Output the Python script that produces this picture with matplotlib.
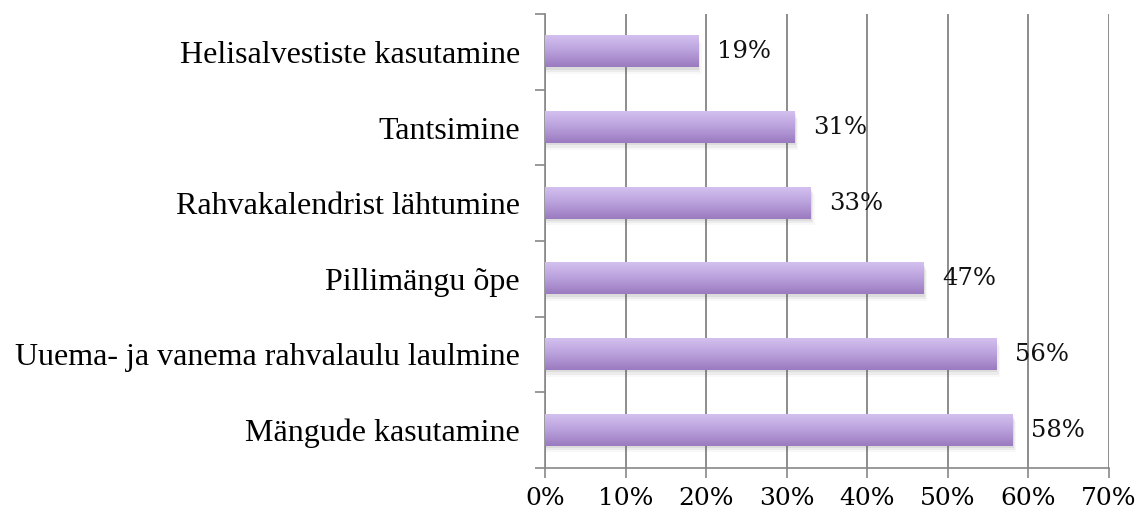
import numpy as np
import matplotlib.pyplot as plt
from matplotlib.colors import LinearSegmentedColormap

# ---- data ----
categories = [
    "Mängude kasutamine",
    "Uuema- ja vanema rahvalaulu laulmine",
    "Pillimängu õpe",
    "Rahvakalendrist lähtumine",
    "Tantsimine",
    "Helisalvestiste kasutamine",
]
values = [58, 56, 47, 33, 31, 19]
xticks = [0, 10, 20, 30, 40, 50, 60, 70]

fig = plt.figure(figsize=(11.37, 5.15), dpi=100)
ax = fig.add_axes([0.4793, 0.0913, 0.4961, 0.8815])

y = np.arange(len(categories))
bar_h = 0.41
grad = LinearSegmentedColormap.from_list("bar", ["#9a7bbf", "#b9a0dc", "#d3c0ef"])

bars = ax.barh(y, values, height=bar_h, color="none", zorder=3)
for b in bars:
    x0, y0 = b.get_x(), b.get_y()
    w, h = b.get_width(), b.get_height()
    # soft shadow under each bar
    for k, a in enumerate([0.10, 0.07, 0.04]):
        off = 0.03 + 0.03 * k
        ax.add_patch(plt.Rectangle((x0, y0 - off), w + 0.15 * (k + 1), h, color="#555555",
                                   alpha=a, lw=0, zorder=2))
    ax.imshow(np.linspace(0, 1, 50).reshape(-1, 1), cmap=grad, aspect="auto",
              extent=[x0, x0 + w, y0, y0 + h], origin="lower", zorder=4)

for yi, v in zip(y, values):
    ax.text(v + 2.3, yi, f"{v}%", va="center", ha="left", fontsize=17.5,
            family="DejaVu Serif", color="#111111", zorder=5)

ax.set_xlim(0, 70)
ax.set_ylim(-0.5, len(categories) - 0.5)
ax.set_xticks(xticks)
ax.set_xticklabels([f"{t}%" for t in xticks], fontsize=18, family="DejaVu Serif")
ax.set_yticks(y)
ax.set_yticklabels(categories, fontsize=23, family="Liberation Serif")
ax.tick_params(axis="y", length=0, pad=18)
ax.set_yticks(np.arange(-0.5, len(categories), 1), minor=True)
ax.tick_params(axis="y", which="minor", length=7, color="#888888", width=1.2)
ax.tick_params(axis="x", length=7, color="#888888", width=1.2, pad=7)

ax.grid(axis="x", color="#8c8c8c", lw=1.4, zorder=1)
ax.set_axisbelow(True)
for s in ["top", "right"]:
    ax.spines[s].set_visible(False)
for s in ["left", "bottom"]:
    ax.spines[s].set_color("#888888")
    ax.spines[s].set_linewidth(1.2)

fig.savefig("out.png", dpi=100)
